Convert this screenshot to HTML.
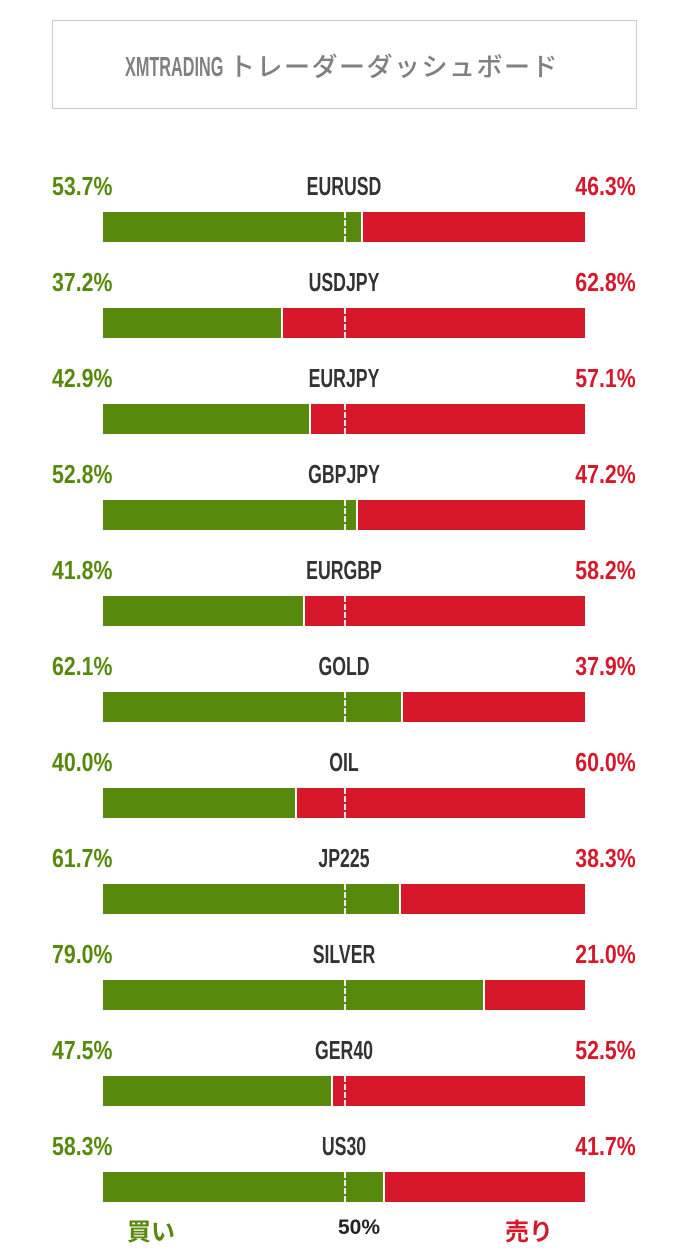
<!DOCTYPE html>
<html><head><meta charset="utf-8"><style>
body{margin:0;width:682px;height:1257px;background:#fff;position:relative;overflow:hidden;font-family:"Liberation Sans","Noto Sans CJK JP",sans-serif}
.box{position:absolute;left:52px;top:20px;width:583px;height:87px;border:1px solid #ccc}
.t{position:absolute;white-space:nowrap;font-weight:bold;font-size:26px;line-height:26px}
.l{left:52px;color:#578a0c;transform:scaleX(.82);transform-origin:left center}
.r{right:46px;color:#d7182a;transform:scaleX(.82);transform-origin:right center}
.c{left:344px;color:#333;transform:translateX(-50%) scaleX(.68)}
.bar{position:absolute;left:103px;width:482px;height:30px;background:#d7182a}
.g{position:absolute;left:0;top:0;height:30px;background:#578a0c;border-right:2px solid #fff}
.d{position:absolute;left:241px;top:0;height:30px;border-left:2px dashed #eee}
</style></head><body>
<div class="box"></div>
<div style="position:absolute;left:125px;top:52px;font-size:28px;line-height:30px;color:#808080;white-space:nowrap"><span style="display:inline-block;font-weight:bold;transform:scaleX(.58);transform-origin:left center;width:104px">XMTRADING</span><span style="letter-spacing:1.5px;font-size:26px;font-weight:500">トレーダーダッシュボード</span></div>

<div class="t l" style="top:173px">53.7%</div><div class="t c" style="top:173px">EURUSD</div><div class="t r" style="top:173px">46.3%</div>
<div class="bar" style="top:212px"><div class="g" style="width:258px"></div><div class="d"></div></div>

<div class="t l" style="top:269px">37.2%</div><div class="t c" style="top:269px">USDJPY</div><div class="t r" style="top:269px">62.8%</div>
<div class="bar" style="top:308px"><div class="g" style="width:178px"></div><div class="d"></div></div>

<div class="t l" style="top:365px">42.9%</div><div class="t c" style="top:365px">EURJPY</div><div class="t r" style="top:365px">57.1%</div>
<div class="bar" style="top:404px"><div class="g" style="width:206px"></div><div class="d"></div></div>

<div class="t l" style="top:461px">52.8%</div><div class="t c" style="top:461px">GBPJPY</div><div class="t r" style="top:461px">47.2%</div>
<div class="bar" style="top:500px"><div class="g" style="width:253px"></div><div class="d"></div></div>

<div class="t l" style="top:557px">41.8%</div><div class="t c" style="top:557px">EURGBP</div><div class="t r" style="top:557px">58.2%</div>
<div class="bar" style="top:596px"><div class="g" style="width:200px"></div><div class="d"></div></div>

<div class="t l" style="top:653px">62.1%</div><div class="t c" style="top:653px">GOLD</div><div class="t r" style="top:653px">37.9%</div>
<div class="bar" style="top:692px"><div class="g" style="width:298px"></div><div class="d"></div></div>

<div class="t l" style="top:749px">40.0%</div><div class="t c" style="top:749px">OIL</div><div class="t r" style="top:749px">60.0%</div>
<div class="bar" style="top:788px"><div class="g" style="width:192px"></div><div class="d"></div></div>

<div class="t l" style="top:845px">61.7%</div><div class="t c" style="top:845px">JP225</div><div class="t r" style="top:845px">38.3%</div>
<div class="bar" style="top:884px"><div class="g" style="width:296px"></div><div class="d"></div></div>

<div class="t l" style="top:941px">79.0%</div><div class="t c" style="top:941px">SILVER</div><div class="t r" style="top:941px">21.0%</div>
<div class="bar" style="top:980px"><div class="g" style="width:380px"></div><div class="d"></div></div>

<div class="t l" style="top:1037px">47.5%</div><div class="t c" style="top:1037px">GER40</div><div class="t r" style="top:1037px">52.5%</div>
<div class="bar" style="top:1076px"><div class="g" style="width:228px"></div><div class="d"></div></div>

<div class="t l" style="top:1133px">58.3%</div><div class="t c" style="top:1133px">US30</div><div class="t r" style="top:1133px">41.7%</div>
<div class="bar" style="top:1172px"><div class="g" style="width:280px"></div><div class="d"></div></div>

<div style="position:absolute;left:127px;top:1212px;font-size:24px;font-weight:bold;color:#578a0c">買い</div>
<div style="position:absolute;left:338px;top:1216px;font-size:21px;font-weight:bold;color:#222">50%</div>
<div style="position:absolute;left:505px;top:1212px;font-size:24px;font-weight:bold;color:#d7182a">売り</div>
</body></html>
